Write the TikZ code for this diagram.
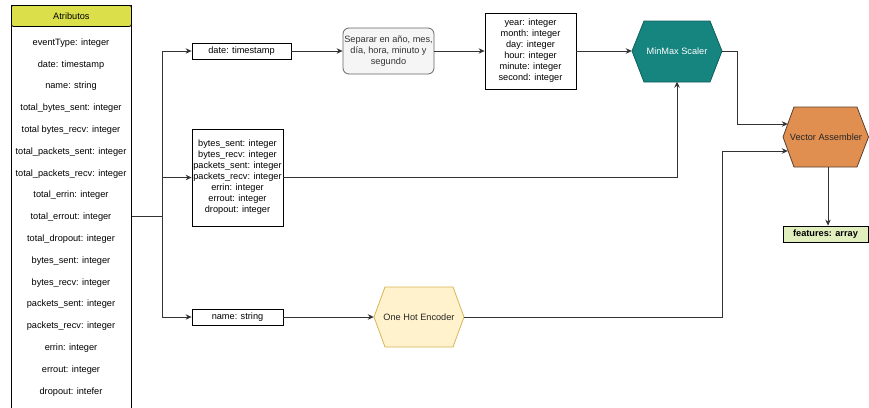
\documentclass[tikz,border=0pt]{standalone}
\usepackage{fontspec}
\setmainfont{Liberation Sans}
\usetikzlibrary{arrows.meta}
\definecolor{hdrfill}{HTML}{DADF4A}
\definecolor{mmfill}{HTML}{16847F}
\definecolor{mmline}{HTML}{0E5F5C}
\definecolor{vafill}{HTML}{E08F50}
\definecolor{valine}{HTML}{5A4030}
\definecolor{ohfill}{HTML}{FFF2CC}
\definecolor{ohline}{HTML}{D6B656}
\definecolor{ftfill}{HTML}{E1EEBE}
\definecolor{sepfill}{HTML}{F5F5F5}
\definecolor{sepline}{HTML}{666666}
\definecolor{lin}{HTML}{333333}
\tikzset{
  box/.style={draw=black, line width=0.8pt, fill=white, inner sep=0pt, align=center},
  txt/.style={inner sep=0pt},
  conn/.style={draw=lin, line width=0.9pt, -{Stealth[length=6pt,width=5.5pt]}},
  plain/.style={draw=lin, line width=0.9pt},
  hexlabel/.style={inner sep=0pt, minimum width=86pt, minimum height=60pt},
}
\begin{document}
\begin{tikzpicture}[x=1pt,y=-1pt,font=\fontsize{9.2}{11}\selectfont]
\useasboundingbox (0,0) rectangle (869,407);
% table
\node[box, minimum width=120pt, minimum height=410pt, anchor=north west] (tbl) at (11,5) {};
\node[box, fill=hdrfill, rounded corners=2pt, minimum width=120pt, minimum height=21pt, anchor=north west] (hdr) at (11,5) {Atributos};
\foreach \t [count=\i from 0] in {eventType: integer, date: timestamp, name: string, total\_bytes\_sent: integer, total bytes\_recv: integer, total\_packets\_sent: integer, total\_packets\_recv: integer, total\_errin: integer, total\_errout: integer, total\_dropout: integer, bytes\_sent: integer, bytes\_recv: integer, packets\_sent: integer, packets\_recv: integer, errin: integer, errout: integer, dropout: intefer}
  \node[txt] (r\i) at (71,{43+21.8*\i}) {\t};
\coordinate (tr) at (162,216);
% boxes
\node[box, minimum width=99pt, minimum height=16pt] (date) at (241.5,51) {date: timestamp};
\node[box, draw=sepline, fill=sepfill, text=lin, rounded corners=6pt, minimum width=91pt, minimum height=46pt] (sep) at (388.5,51) {Separar en año, mes,\\día, hora, minuto y\\segundo};
\node[box, minimum width=91pt, minimum height=76pt] (year) at (530.5,51) {year: integer\\month: integer\\day: integer\\hour: integer\\minute: integer\\second: integer};
\node[box, minimum width=91pt, minimum height=97pt] (bytes) at (237.5,177.5) {bytes\_sent: integer\\bytes\_recv: integer\\packets\_sent: integer\\packets\_recv: integer\\errin: integer\\errout: integer\\dropout: integer};
\node[box, minimum width=91pt, minimum height=16pt] (name) at (237.5,317) {name: string};
\node[box, fill=ftfill, minimum width=85pt, minimum height=16pt, font=\fontsize{9.2}{11}\selectfont\bfseries] (feat) at (825.5,234) {features: array};
% hexagons
\path[draw=mmline, fill=mmfill, line width=0.8pt] (632,51) -- (644,21) -- (710,21) -- (722,51) -- (710,82) -- (644,82) -- cycle;
\node[hexlabel, minimum width=90pt, minimum height=61pt, text=white] (mm) at (677,51) {MinMax Scaler};
\path[draw=valine, fill=vafill, line width=0.8pt] (783,137) -- (794,107) -- (857,107) -- (868.5,137) -- (857,167) -- (794,167) -- cycle;
\node[hexlabel, minimum width=86pt, minimum height=60pt, text=black!85] (va) at (826,137) {Vector Assembler};
\path[draw=ohline, fill=ohfill, line width=0.8pt] (374,317) -- (385,287) -- (453,287) -- (464,317) -- (453,347) -- (385,347) -- cycle;
\node[hexlabel, minimum width=90pt, minimum height=60pt, text=black!85] (oh) at (419,317) {One Hot Encoder};
% connectors
\draw[plain] (tbl.east |- tr) -- (tr);
\draw[conn] (tr) |- (date.west);
\draw[conn] (tr) |- (bytes.west);
\draw[conn] (tr) |- (name.west);
\draw[conn] (date.east) -- (sep.west);
\draw[conn] (sep.east) -- (year.west);
\draw[conn] (year.east) -- (mm.west);
\draw[conn] (bytes.east) -| (mm.south);
\draw[conn] (mm.east) -- ++(15,0) |- ([xshift=5pt,yshift=13pt]va.west);
\draw[conn] (name.east) -- (oh.west);
\draw[conn] (oh.east) -- (722,317) |- ([xshift=5pt,yshift=-14pt]va.west);
\draw[conn] ([xshift=2pt]va.south) -- ([xshift=2.5pt]feat.north);
\end{tikzpicture}
\end{document}
